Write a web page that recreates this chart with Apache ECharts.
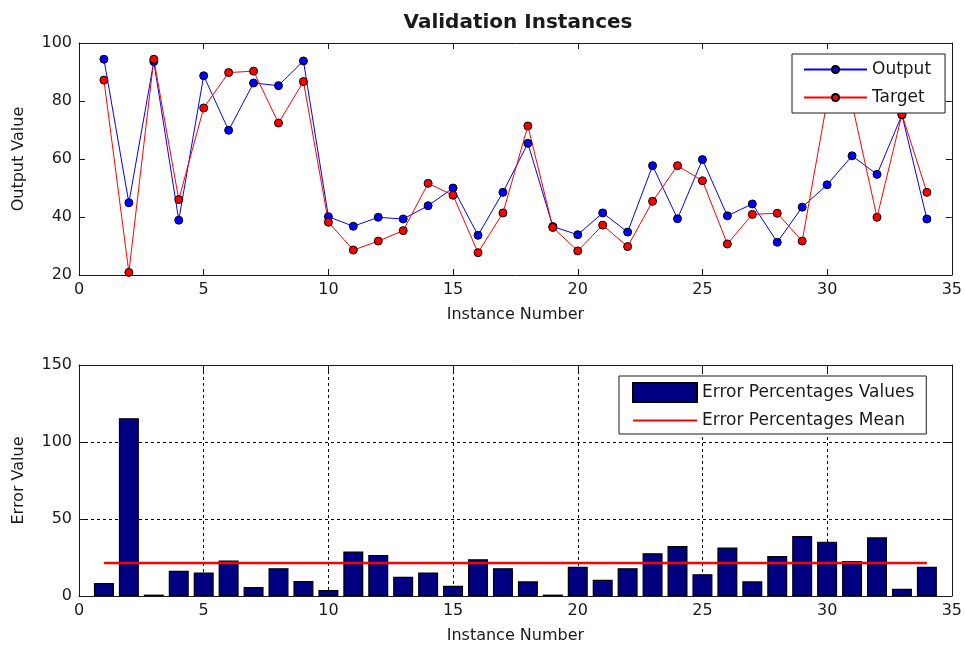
<!DOCTYPE html>
<html>
<head>
<meta charset="UTF-8">
<title>Validation Instances</title>
<script src="https://cdn.jsdelivr.net/npm/echarts@6/dist/echarts.min.js"></script>
<style>
  html, body { margin: 0; padding: 0; background: #fff; }
  #chart { width: 965px; height: 645px; }
</style>
</head>
<body>
<div id="chart"></div>
<script type="text/javascript">
// values
var instances = [1, 2, 3, 4, 5, 6, 7, 8, 9, 10, 11, 12, 13, 14, 15, 16, 17,
                 18, 19, 20, 21, 22, 23, 24, 25, 26, 27, 28, 29, 30, 31, 32, 33, 34];
var outputValues = [94.4, 44.9, 93.6, 38.9, 88.7, 69.9, 86.2, 85.3, 93.8, 40.1, 36.8, 39.9,
                    39.3, 43.9, 50.0, 33.7, 48.5, 65.4, 36.7, 33.9, 41.4, 34.8, 57.7, 39.4,
                    59.8, 40.4, 44.5, 31.3, 43.4, 51.1, 61.1, 54.7, 75.2, 39.3];
var targetValues = [87.2, 20.9, 94.4, 46.0, 77.6, 89.8, 90.3, 72.4, 86.7, 38.2, 28.6, 31.7,
                    35.3, 51.6, 47.5, 27.7, 41.4, 71.4, 36.4, 28.3, 37.2, 29.8, 45.4, 57.7,
                    52.5, 30.7, 40.9, 41.3, 31.7, 80.0, 79.0, 39.9, 75.4, 48.5];
var errorValues = [8.4, 115.5, 0.9, 16.4, 15.3, 23.0, 5.8, 18.1, 9.7, 3.9, 28.9, 26.7,
                   12.5, 15.3, 6.7, 23.9, 18.1, 9.5, 0.9, 19.0, 10.6, 18.1, 27.8, 32.5,
                   14.2, 31.5, 9.5, 25.9, 39.0, 35.3, 22.8, 38.1, 4.7, 19.0];
var errorMean = 21.5;

function pairs(xs, ys) {
	var out = [];
	for (var i = 0; i < xs.length; i++) out.push([xs[i], ys[i]]);
	return out;
}

var FONT = 'DejaVu Sans';
var INK = '#1a1a1a';

function xAx(grid, pos, showLabel, name) {
	return {
		type: 'value', gridIndex: grid, position: pos,
		min: 0, max: 35, interval: 5,
		name: name || '', nameLocation: 'middle', nameGap: 32,
		nameTextStyle: { fontFamily: FONT, fontSize: 16, color: INK },
		axisLine: { show: true, onZero: false, lineStyle: { color: INK, width: 1 } },
		axisTick: { show: true, inside: true, length: 6, lineStyle: { color: INK } },
		axisLabel: { show: showLabel, margin: 7, fontFamily: FONT, fontSize: 16, color: INK },
		splitLine: grid == 1 && pos == 'bottom'
			? { show: true, lineStyle: { color: '#000', type: [3, 3], width: 1 } }
			: { show: false }
	};
}

function yAx(grid, pos, showLabel, min, max, step, name) {
	return {
		type: 'value', gridIndex: grid, position: pos,
		min: min, max: max, interval: step,
		name: name || '', nameLocation: 'middle', nameGap: 52,
		nameTextStyle: { fontFamily: FONT, fontSize: 16, color: INK },
		axisLine: { show: true, onZero: false, lineStyle: { color: INK, width: 1 } },
		axisTick: { show: true, inside: true, length: 6, lineStyle: { color: INK } },
		axisLabel: { show: showLabel, margin: 7, fontFamily: FONT, fontSize: 16, color: INK },
		splitLine: grid == 1 && pos == 'left'
			? { show: true, lineStyle: { color: '#000', type: [3, 3], width: 1 } }
			: { show: false }
	};
}

var chart = echarts.init(document.getElementById('chart'));
chart.setOption({
	animation: false,
	backgroundColor: '#fff',
	title: {
		text: 'Validation Instances', left: 513, top: 8, textAlign: 'center',
		textStyle: { fontFamily: FONT, fontSize: 20, fontWeight: 'bold', color: INK }
	},
	grid: [
		{ left: 79, top: 43, width: 874, height: 232 },
		{ left: 79, top: 365, width: 874, height: 232 }
	],
	legend: [
		{
			data: ['Output', 'Target'], orient: 'vertical', left: 792, top: 54,
			padding: [7, 14, 7, 11], itemGap: 11, itemWidth: 63, itemHeight: 9,
			backgroundColor: '#fff', borderColor: INK, borderWidth: 1, borderRadius: 0,
			textStyle: { fontFamily: FONT, fontSize: 17, color: INK }
		},
		{
			data: [
				{ name: 'Error Percentages Values', icon: 'rect' },
				{ name: 'Error Percentages Mean', itemStyle: { opacity: 0 } }
			],
			orient: 'vertical',
			left: 619, top: 376, padding: [6, 12, 5, 13], itemGap: 9, itemWidth: 64, itemHeight: 19,
			backgroundColor: '#fff', borderColor: INK, borderWidth: 1, borderRadius: 0,
			textStyle: { fontFamily: FONT, fontSize: 17, color: INK }
		}
	],
	xAxis: [
		xAx(0, 'bottom', true, 'Instance Number'),
		xAx(0, 'top', false),
		xAx(1, 'bottom', true, 'Instance Number'),
		xAx(1, 'top', false)
	],
	yAxis: [
		yAx(0, 'left', true, 20, 100, 20, 'Output Value'),
		yAx(0, 'right', false, 20, 100, 20),
		yAx(1, 'left', true, 0, 150, 50, 'Error Value'),
		yAx(1, 'right', false, 0, 150, 50)
	],
	series: [
		{
			name: 'Output', type: 'line', xAxisIndex: 0, yAxisIndex: 0,
			data: pairs(instances, outputValues),
			symbol: 'circle', symbolSize: 8,
			lineStyle: { color: '#0000ff', width: 1 },
			itemStyle: { color: '#0000ff', borderColor: '#000', borderWidth: 1 }
		},
		{
			name: 'Target', type: 'line', xAxisIndex: 0, yAxisIndex: 0,
			data: pairs(instances, targetValues),
			symbol: 'circle', symbolSize: 8,
			lineStyle: { color: '#ff0000', width: 1 },
			itemStyle: { color: '#ff0000', borderColor: '#000', borderWidth: 1 }
		},
		{
			name: 'Error Percentages Values', type: 'bar', xAxisIndex: 2, yAxisIndex: 2,
			data: pairs(instances, errorValues),
			barWidth: 20,
			itemStyle: { color: '#000080', borderColor: '#000', borderWidth: 1.2 }
		},
		{
			name: 'Error Percentages Mean', type: 'line', xAxisIndex: 2, yAxisIndex: 2,
			data: [[instances[0], errorMean], [instances[instances.length - 1], errorMean]],
			symbol: 'none',
			lineStyle: { color: '#ff0000', width: 2.5 },
			itemStyle: { color: '#ff0000' }
		}
	]
});
</script>
</body>
</html>
